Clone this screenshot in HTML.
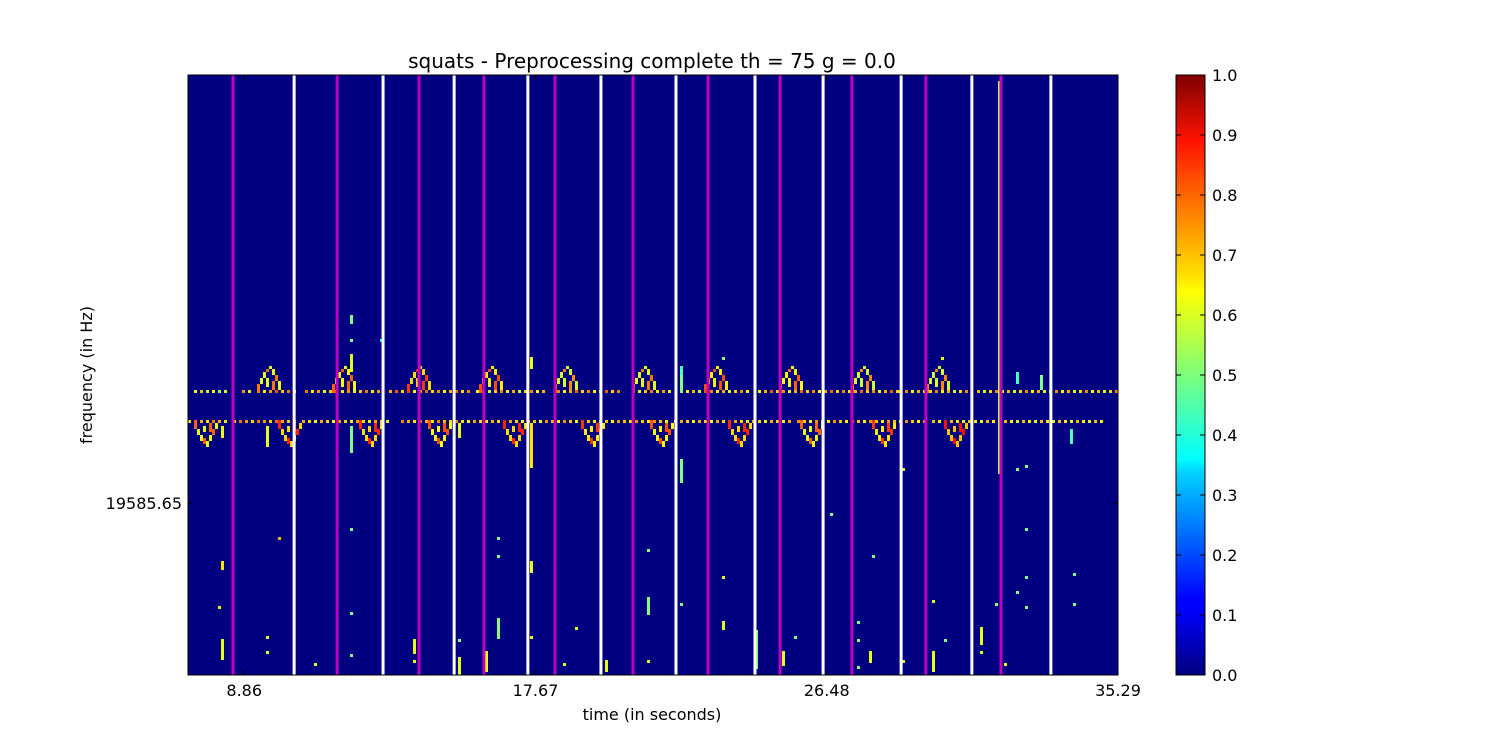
<!DOCTYPE html>
<html><head><meta charset="utf-8"><style>
body{margin:0;background:#fff;font-family:"DejaVu Sans","Liberation Sans",sans-serif}
svg text{font-family:"DejaVu Sans","Liberation Sans",sans-serif;fill:#000}
</style></head><body>
<svg id="c" width="1500" height="750" xmlns="http://www.w3.org/2000/svg">
<defs><linearGradient id="jet" x1="0" y1="1" x2="0" y2="0">
<stop offset="0" stop-color="#00007f"/><stop offset="0.11" stop-color="#0000ff"/><stop offset="0.125" stop-color="#0000ff"/><stop offset="0.34" stop-color="#00d4ff"/><stop offset="0.36" stop-color="#0ff"/><stop offset="0.5" stop-color="#7dff7a"/><stop offset="0.64" stop-color="#ff0"/><stop offset="0.66" stop-color="#ffe600"/><stop offset="0.89" stop-color="#ff1300"/><stop offset="1" stop-color="#7f0000"/></linearGradient></defs>
<text x="652" y="68" font-size="20" text-anchor="middle">squats - Preprocessing complete th = 75 g = 0.0</text>
<rect x="188" y="75" width="930" height="600" fill="#000080"/>
<g id="specks"></g>
<g id="markers"></g>
<rect x="188" y="75" width="930" height="600" fill="none" stroke="#000" stroke-width="1"/>
<g id="axes"></g>
<text transform="translate(92,375) rotate(-90)" font-size="16" text-anchor="middle">frequency (in Hz)</text>
<text x="652" y="720" font-size="16" text-anchor="middle">time (in seconds)</text>
<rect x="1176" y="75" width="29" height="600" fill="url(#jet)" stroke="#000"/>
<g id="cbar"></g>
</svg>
<script>
// ---- data ----
const xTickValues=[8.86,17.67,26.48,35.29];
const yTickLabels=["19585.65"];
const yTickBins=[142.7];
const magentaTimes=[8.52,11.67,14.15,16.11,18.26,20.62,22.89,25.07,27.24,29.48,31.75];
const whiteTimes=[10.37,13.06,15.21,17.44,19.65,21.92,24.31,26.37,28.73,30.87,33.26];
const cbarTicks=[0,0.1,0.2,0.3,0.4,0.5,0.6,0.7,0.8,0.9,1.0];
// band segments: [startFrame, endFrame, value]
const band1=[[2,13,0.6],[18,20,0.68],[23,36,0.72],[39,64,0.68],[67,93,0.7],[96,119,0.66],[123,144,0.7],[148,160,0.68],[164,187,0.66],[190,236,0.7],[237,260,0.66],[263,309,0.66]];
const band2=[[0,13,0.7],[15,36,0.72],[38,66,0.66],[71,89,0.7],[91,113,0.66],[115,160,0.68],[162,200,0.66],[203,245,0.68],[248,305,0.64]];
// bursts: frame centers
const upBursts=[27,52,77,101,126,152,176,201,225,250];
const upVals=[0.68,0.7,0.74,0.72,0.66,0.68,0.72,0.7,0.66,0.66];
const downBursts=[6,34,61,84,109,135,158,184,208,232,256];
const downVals=[0.68,0.74,0.74,0.7,0.74,0.72,0.7,0.74,0.68,0.72,0.76];
// isolated cells: [frame, binTop, binBottom, value]
const specks=[[54,80,82,0.5],[54,93,98,0.6],[54,88,88,0.5],[64,88,88,0.4],[114,94,97,0.6],[164,97,100,0.45],[164,128,135,0.5],[178,94,94,0.5],[251,94,94,0.6],
[11,162,164,0.65],[10,177,177,0.65],[11,188,194,0.6],[26,187,187,0.6],[26,192,192,0.6],[30,154,154,0.7],[42,196,196,0.6],[54,151,151,0.5],[54,179,179,0.5],[54,193,193,0.5],
[75,188,192,0.6],[75,195,195,0.6],[90,188,188,0.5],[90,194,199,0.6],[99,192,198,0.6],[103,154,154,0.5],[103,160,160,0.5],[103,181,187,0.5],[114,162,165,0.6],[114,187,187,0.6],
[129,184,184,0.6],[125,196,196,0.6],[139,195,198,0.6],[153,158,158,0.5],[153,174,179,0.5],[153,195,195,0.6],[164,176,176,0.5],[178,167,167,0.6],[178,182,184,0.6],
[189,185,197,0.5],[198,192,196,0.6],[202,187,187,0.5],[214,146,146,0.5],[223,182,182,0.5],[223,188,188,0.5],[223,197,197,0.5],[227,192,195,0.6],[228,160,160,0.5],
[238,131,131,0.6],[238,195,195,0.6],[248,175,175,0.6],[248,192,198,0.6],[252,188,188,0.5],[264,184,189,0.6],[264,192,192,0.6],[269,176,176,0.5],[272,196,196,0.6],
[276,172,172,0.5],[279,151,151,0.5],[279,167,167,0.5],[279,177,177,0.5],[279,130,130,0.5],[276,131,131,0.5],[295,166,166,0.5],[295,176,176,0.5],[294,118,122,0.45],
[11,117,120,0.6],[26,117,123,0.6],[54,117,125,0.5],[90,116,120,0.6],[164,100,105,0.5],[114,116,130,0.65],[270,2,132,0.55],[276,99,102,0.45],[284,100,104,0.5]];
// ---- scales ----
const X0=188,X1=1118,Y0=75,Y1=675;
const tMin=7.16,tMax=35.29,nFrames=310,nBins=200;
const xScale=t=>X0+(t-tMin)/(tMax-tMin)*(X1-X0);
const frameToTime=f=>tMin+f*(tMax-tMin)/nFrames;
const yScale=b=>Y0+b*(Y1-Y0)/nBins;
const cellW=(X1-X0)/nFrames, cellH=(Y1-Y0)/nBins;
function jet(v){const c=x=>Math.max(0,Math.min(1,x));
 const r=c(1.5-Math.abs(4*v-3)),g=c(1.5-Math.abs(4*v-2)),b=c(1.5-Math.abs(4*v-1));
 return `rgb(${Math.round(r*255)},${Math.round(g*255)},${Math.round(b*255)})`;}
const NS="http://www.w3.org/2000/svg";
function mk(tag,attrs,parent){const e=document.createElementNS(NS,tag);for(const k in attrs)e.setAttribute(k,attrs[k]);parent.appendChild(e);return e;}
const sp=document.getElementById('specks');
function cell(f,b0,b1,v,w){
 const r=mk('rect',{x:xScale(frameToTime(f)),y:yScale(b0),width:(w||1)*cellW,height:(b1-b0+1)*cellH,fill:jet(v)},sp);
 
 
}
band1.forEach(s=>{for(let f=s[0];f<=s[1];f+=2){cell(f,105,105,s[2]+((f%5)-2)*0.04);}});
band2.forEach(s=>{for(let f=s[0];f<=s[1];f+=2){cell(f,115,115,s[2]+((f%3)-1)*0.05);}});
const upShape=[[-4,103,105],[-3,101,102],[-2,99,100],[-1,98,98],[0,97,97],[1,98,99],[2,100,101],[3,102,104],[-1,101,103],[1,102,104]];
upBursts.forEach((f,i)=>upShape.forEach((s,j)=>cell(f+s[0],s[1],s[2],upVals[i]+(j%3?-0.08:0.08))));
const downShape=[[-4,115,117],[-3,118,119],[-2,120,121],[-1,121,122],[0,122,123],[1,120,121],[2,118,119],[3,116,117],[-1,117,118],[1,116,118]];
downBursts.forEach((f,i)=>downShape.forEach((s,j)=>cell(f+s[0],s[1],s[2],downVals[i]+(j%3?-0.08:0.1))));
specks.forEach(s=>cell(s[0],s[1],s[2],s[3],s[0]===270?0.6:1));
const mg=document.getElementById('markers');
magentaTimes.forEach(t=>{const l=mk('line',{x1:xScale(t),x2:xScale(t),y1:Y0,y2:Y1,stroke:'#bf00bf','stroke-width':3},mg);
 
 });
whiteTimes.forEach(t=>{const l=mk('line',{x1:xScale(t),x2:xScale(t),y1:Y0,y2:Y1,stroke:'#ffffff','stroke-width':3},mg);
 
 });
const ax=document.getElementById('axes');
xTickValues.forEach(v=>{const x=xScale(v);
 mk('line',{x1:x,x2:x,y1:Y1,y2:Y1-5,stroke:'#000'},ax);mk('line',{x1:x,x2:x,y1:Y0,y2:Y0+5,stroke:'#000'},ax);
 const t=mk('text',{x:x,y:Y1+21,'font-size':16,'text-anchor':'middle'},ax);t.textContent=v.toFixed(2);
 
 });
yTickBins.forEach((b,i)=>{const y=yScale(b);
 mk('line',{x1:X0,x2:X0+5,y1:y,y2:y,stroke:'#000'},ax);mk('line',{x1:X1,x2:X1-5,y1:y,y2:y,stroke:'#000'},ax);
 const t=mk('text',{x:X0-6,y:y+6,'font-size':16,'text-anchor':'end'},ax);t.textContent=yTickLabels[i];
 
 });
const cb=document.getElementById('cbar');
cbarTicks.forEach(v=>{const y=675-v*600;
 mk('line',{x1:1200,x2:1205,y1:y,y2:y,stroke:'#000'},cb);mk('line',{x1:1176,x2:1181,y1:y,y2:y,stroke:'#000'},cb);
 const t=mk('text',{x:1212,y:y+6,'font-size':16},cb);t.textContent=v.toFixed(1);
 
 });
</script>
</body></html>
